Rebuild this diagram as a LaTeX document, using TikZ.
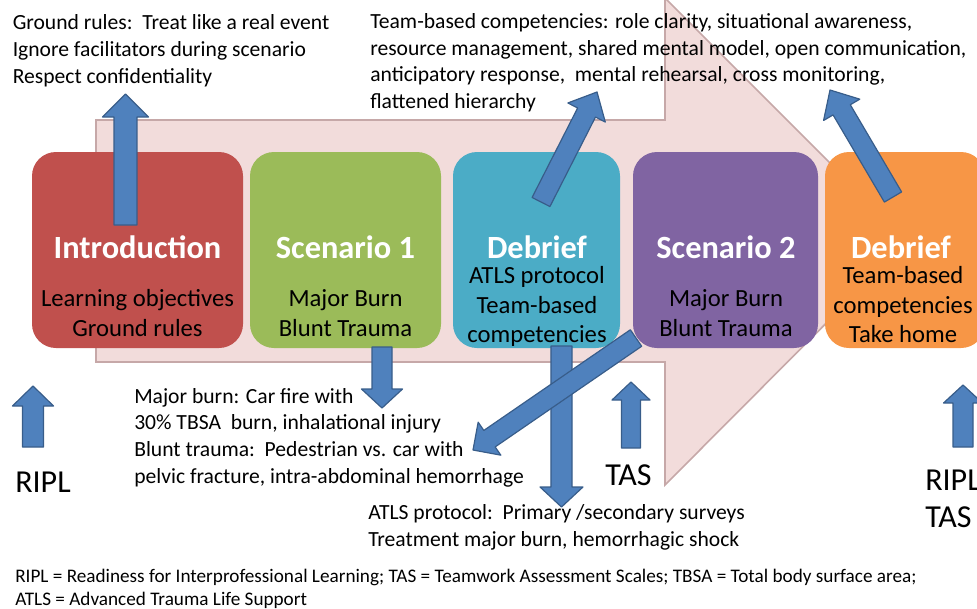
\documentclass[tikz,border=0pt]{standalone}
\usepackage{fontspec}
\setmainfont{Carlito}
\usepackage{tikz}
\usetikzlibrary{calc}

\definecolor{introred}{HTML}{C0504D}
\definecolor{scengreen}{HTML}{9BBB59}
\definecolor{debriefblue}{HTML}{4BACC6}
\definecolor{scenpurple}{HTML}{8064A2}
\definecolor{debrieforange}{HTML}{F79646}
\definecolor{flowpink}{HTML}{F2DCDB}
\definecolor{flowedge}{HTML}{C6A8A8}
\definecolor{arrowblue}{HTML}{4F81BD}
\definecolor{arrowedge}{HTML}{385D8A}

\tikzset{
  stagebox/.style={rounded corners=18pt, minimum height=147pt, inner sep=0pt},
  stagetitle/.style={anchor=base, inner sep=0pt, text=white, font=\fontsize{24.3}{28}\selectfont\bfseries},
  stagetext/.style={anchor=base, inner sep=0pt, align=center, font=\fontsize{18.5}{22}\selectfont},
  notetext/.style={anchor=base west, inner sep=0pt, align=left, font=\fontsize{16.2}{19.9}\selectfont},
  bigtext/.style={anchor=base west, inner sep=0pt, align=left, font=\fontsize{24}{27.75}\selectfont},
  bluearrow/.style={fill=arrowblue, draw=arrowedge, line width=0.9pt, line join=round},
}

% block arrow: tail, tip, half shaft, half head, head length
\newcommand{\blockarrow}[5]{%
  \coordinate (hb) at ($(#2)!#5!(#1)$);
  \draw[bluearrow] ($(#1)!#3!90:(#2)$) -- ($(hb)!#3!90:(#2)$) -- ($(hb)!#4!90:(#2)$) -- (#2)
    -- ($(hb)!#4!-90:(#2)$) -- ($(hb)!#3!-90:(#2)$) -- ($(#1)!#3!-90:(#2)$) -- cycle;
}

\begin{document}
\begin{tikzpicture}[x=0.75pt,y=0.75pt,yscale=-1,xscale=1]
\useasboundingbox (0,0) rectangle (977,608);
\clip (0,0) rectangle (977,608);

%Shape: Right Arrow
\draw[fill=flowpink, draw=flowedge, line width=1.2pt] (96,120) -- (665,120) -- (665,-2) -- (908,241) -- (665,485) -- (665,362) -- (96,362) -- cycle;

%Shape: Rounded Rect
\node (intro) [stagebox, fill=introred, minimum width=158.25pt] at (137.5,250) {};
%Shape: Rounded Rect
\node (scenone) [stagebox, fill=scengreen, minimum width=143.25pt] at (345.5,250) {};
%Shape: Rounded Rect
\node (debone) [stagebox, fill=debriefblue, minimum width=125.25pt] at (536.5,250) {};
%Shape: Rounded Rect
\node (scentwo) [stagebox, fill=scenpurple, minimum width=138.75pt] at (725.5,250) {};
%Shape: Rounded Rect
\node (debtwo) [stagebox, fill=debrieforange, minimum width=120pt] at (905,250) {};

% Text Node
\node (introtitle) [stagetitle] at (137.5,258.5) {Introduction};
\node (introbody) [stagetext] at (137.5,336) {Learning objectives\\Ground rules};
% Text Node
\node (scenonetitle) [stagetitle] at (345.5,258.5) {Scenario 1};
\node (scenonebody) [stagetext] at (345.5,336) {Major Burn\\Blunt Trauma};
% Text Node
\node (debonetitle) [stagetitle] at (537,258.5) {Debrief};
\node (debonebody) [stagetext] at (537,342.5) {ATLS protocol\\Team-based\\competencies};
% Text Node
\node (scentwotitle) [stagetitle] at (726,258.5) {Scenario 2};
\node (scentwobody) [stagetext] at (726,336) {Major Burn\\Blunt Trauma};
% Text Node
\node (debtwotitle) [stagetitle] at (901,258.5) {Debrief};
\node (debtwobody) [stagetext] at (903,342.5) {Team-based\\competencies\\Take home};

% arrow ends
\coordinate (introtail) at (125.5,225);
\coordinate (introtip) at (125.5,94);
\coordinate (scenonetail) at (382,347);
\coordinate (scenonetip) at (382,408);
\coordinate (deboneuptail) at (541,202);
\coordinate (deboneuptip) at (597,92);
\coordinate (debonedowntail) at (561.5,346);
\coordinate (debonedowntip) at (561.5,507);
\coordinate (scentwotail) at (636,338);
\coordinate (scentwotip) at (473,450);
\coordinate (debtwotail) at (893,197);
\coordinate (debtwotip) at (830,90);
\coordinate (ripltail) at (33,447);
\coordinate (ripltip) at (33,386);
\coordinate (tastail) at (631,448);
\coordinate (tastip) at (631,382);
\coordinate (endtail) at (963,447);
\coordinate (endtip) at (963,385);

%Block Arrows
\blockarrow{introtail}{introtip}{8.6pt}{17.25pt}{17.25pt}
\blockarrow{scenonetail}{scenonetip}{7.5pt}{15.4pt}{14.25pt}
\blockarrow{deboneuptail}{deboneuptip}{7.5pt}{15.75pt}{17.25pt}
\blockarrow{debonedowntail}{debonedowntip}{7.9pt}{16.1pt}{15pt}
\blockarrow{scentwotail}{scentwotip}{7.5pt}{15pt}{15pt}
\blockarrow{debtwotail}{debtwotip}{7.5pt}{15.75pt}{17.25pt}
\blockarrow{ripltail}{ripltip}{7.9pt}{15.4pt}{15pt}
\blockarrow{tastail}{tastip}{7.1pt}{14.25pt}{13.5pt}
\blockarrow{endtail}{endtip}{7.5pt}{14.6pt}{13.5pt}

% Text Node
\node (rules) [notetext] at (12.5,83) {Ground rules:\ \ Treat like a real event\\Ignore facilitators during scenario\\Respect confidentiality};
% Text Node
\node (teamcomp) [notetext] at (370,108.5) {Team-based competencies: role clarity, situational awareness,\\resource management, shared mental model, open communication,\\anticipatory response,\ \ mental rehearsal, cross monitoring,\\flattened hierarchy};
% Text Node
\node (cases) [notetext] at (134,483) {Major burn: Car fire with\\30\% TBSA\ \ burn, inhalational injury\\Blunt trauma:\ \ Pedestrian vs. car with\\pelvic fracture, intra-abdominal hemorrhage};
% Text Node
\node (atls) [notetext] at (368,546.5) {ATLS protocol:\ \ Primary /secondary surveys\\Treatment major burn, hemorrhagic shock};
% Text Node
\node (ripl) [bigtext] at (15,492) {RIPL};
\node (tas) [bigtext] at (605,485) {TAS};
\node (ripltas) [bigtext] at (925,527) {RIPL\\TAS};
% Text Node
\node (footnote) [notetext, font=\fontsize{14.4}{17.25}\selectfont] at (15,605) {RIPL = Readiness for Interprofessional Learning; TAS = Teamwork Assessment Scales; TBSA = Total body surface area;\\ATLS = Advanced Trauma Life Support};

\end{tikzpicture}
\end{document}
